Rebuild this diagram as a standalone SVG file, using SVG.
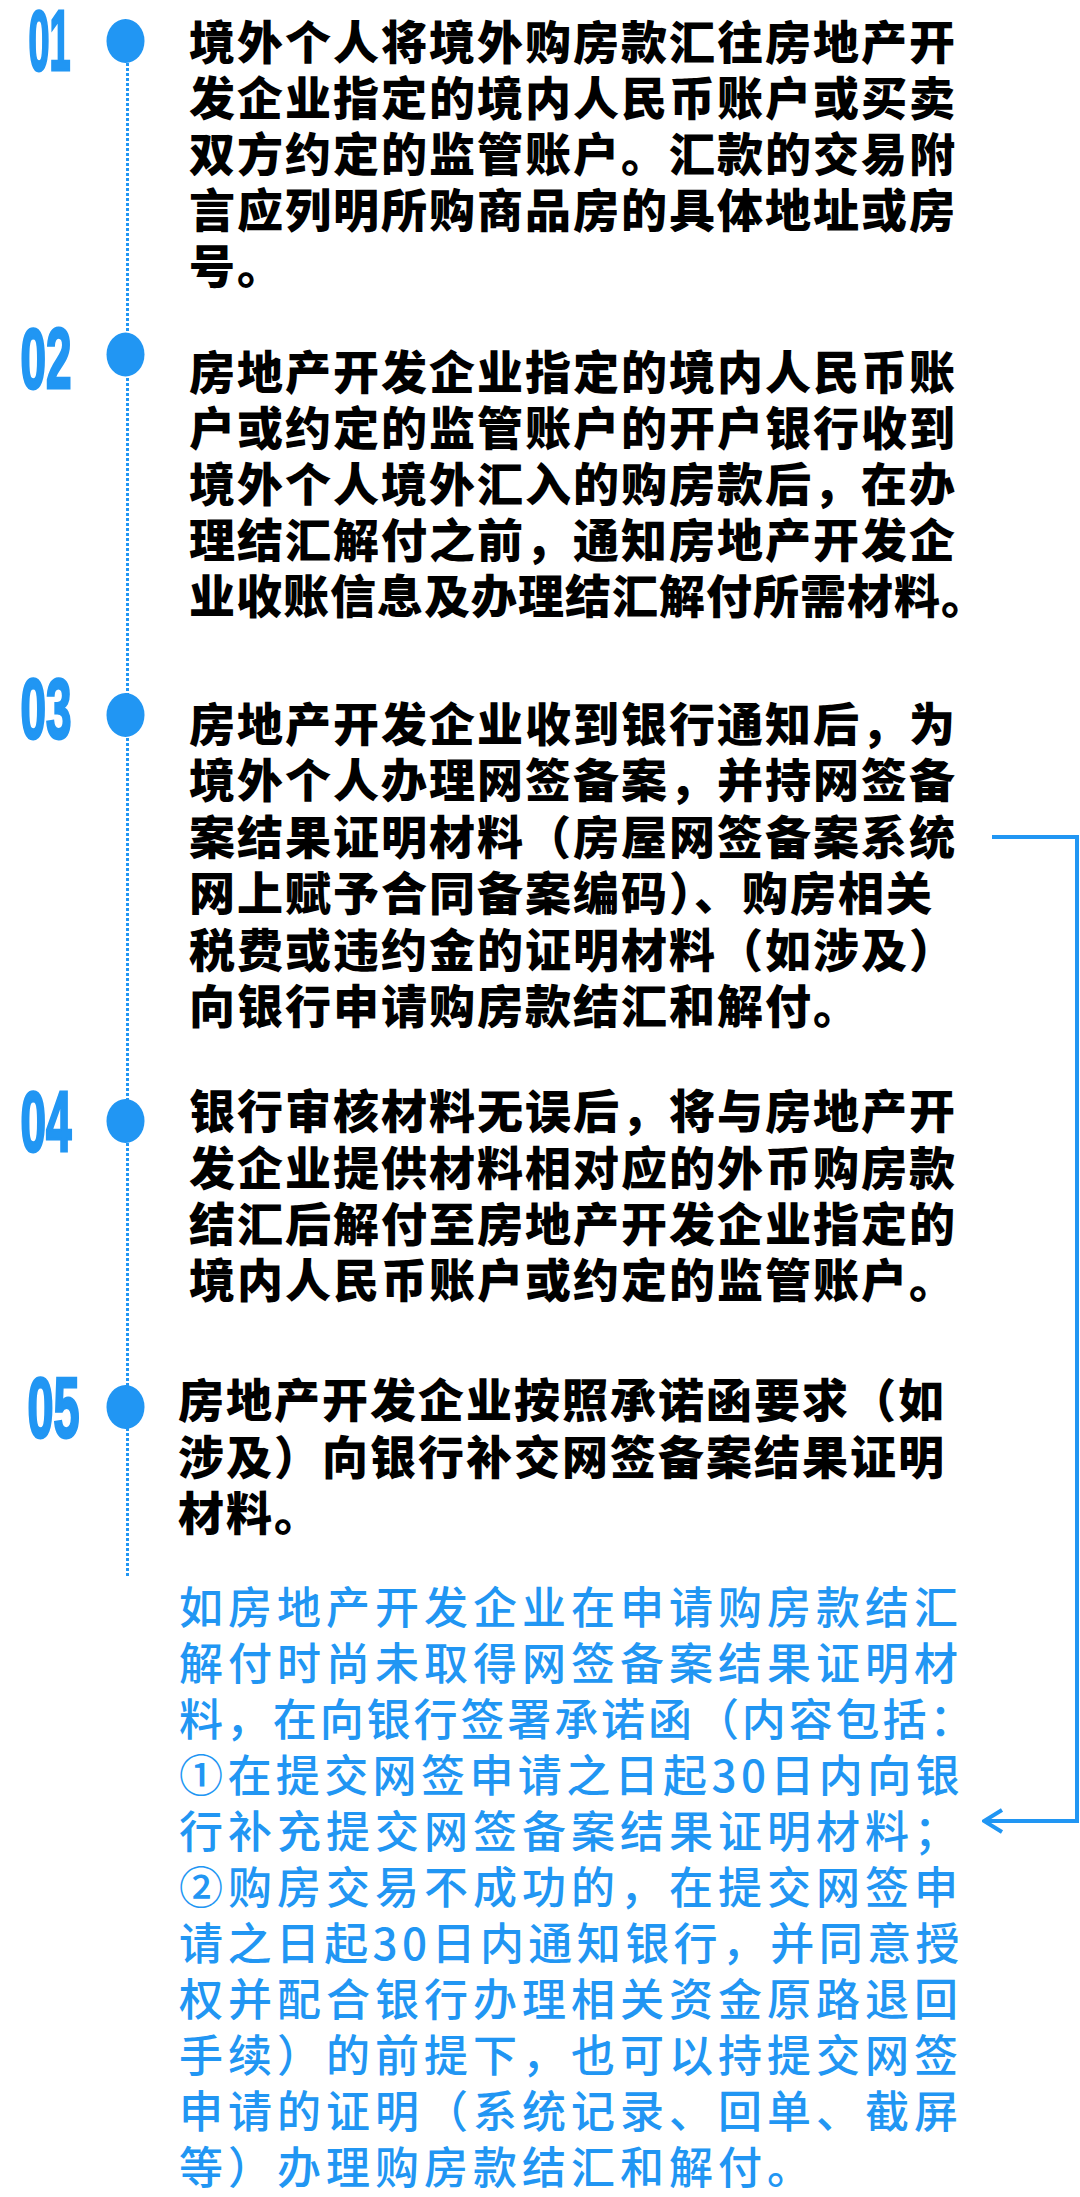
<svg xmlns="http://www.w3.org/2000/svg" width="1080" height="2197" viewBox="0 0 1080 2197">
<style>
.num{font-family:"Liberation Sans",Arial,sans-serif;font-weight:bold;font-size:86px;fill:#2196F3;stroke:#2196F3;stroke-width:3px}
.dot{fill:#2196F3}
.body{font-family:"Noto Sans CJK SC","Noto Sans",sans-serif;font-weight:900;font-size:46px;fill:#000;letter-spacing:2px}
.note{font-family:"Noto Sans CJK SC","Noto Sans",sans-serif;font-weight:500;font-size:44px;fill:#2196F3;letter-spacing:5px}
.conn{fill:none;stroke:#2196F3;stroke-width:4px}
.timeline{stroke:#2196F3;stroke-width:3px;stroke-dasharray:3 2}
</style>
<defs>
<marker id="chev" markerUnits="userSpaceOnUse" viewBox="0 0 22 26" refX="20" refY="13" markerWidth="22" markerHeight="26" orient="auto">
<path d="M2,2 L20,13 L2,24" fill="none" stroke="#2196F3" stroke-width="4"/>
</marker>
</defs>
<rect width="1080" height="2197" fill="#fff"/>

<g id="connectors">
<line class="timeline" x1="127.5" y1="63" x2="127.5" y2="1577"/>
<path class="conn" d="M992,837 H1077 V1821 H984" marker-end="url(#chev)"/>
</g>

<g id="step01">
<text class="num" x="28.5" y="70" textLength="42" lengthAdjust="spacingAndGlyphs">01</text>
<ellipse class="dot" cx="125.5" cy="41" rx="19" ry="22"/>
<text class="body" x="189"><tspan x="189" y="59">境外个人将境外购房款汇往房地产开</tspan><tspan x="189" y="115">发企业指定的境内人民币账户或买卖</tspan><tspan x="189" y="171">双方约定的监管账户。汇款的交易附</tspan><tspan x="189" y="227">言应列明所购商品房的具体地址或房</tspan><tspan x="189" y="283">号。</tspan></text>
</g>

<g id="step02">
<text class="num" x="20.5" y="387.5" textLength="51" lengthAdjust="spacingAndGlyphs">02</text>
<ellipse class="dot" cx="125.5" cy="354.5" rx="19" ry="22"/>
<text class="body"><tspan x="189" y="389">房地产开发企业指定的境内人民币账</tspan><tspan x="189" y="445">户或约定的监管账户的开户银行收到</tspan><tspan x="189" y="501">境外个人境外汇入的购房款后，在办</tspan><tspan x="189" y="557">理结汇解付之前，通知房地产开发企</tspan><tspan x="189" y="613" style="letter-spacing:1px">业收账信息及办理结汇解付所需材料。</tspan></text>
</g>

<g id="step03">
<text class="num" x="20.5" y="737.5" textLength="51" lengthAdjust="spacingAndGlyphs">03</text>
<ellipse class="dot" cx="125.5" cy="715" rx="19" ry="22"/>
<text class="body"><tspan x="189" y="741">房地产开发企业收到银行通知后，为</tspan><tspan x="189" y="797">境外个人办理网签备案，并持网签备</tspan><tspan x="189" y="854">案结果证明材料（房屋网签备案系统</tspan><tspan x="189" y="910">网上赋予合同备案编码）、购房相关</tspan><tspan x="189" y="967">税费或违约金的证明材料（如涉及）</tspan><tspan x="189" y="1023">向银行申请购房款结汇和解付。</tspan></text>
</g>

<g id="step04">
<text class="num" x="20.5" y="1150.5" textLength="51" lengthAdjust="spacingAndGlyphs">04</text>
<ellipse class="dot" cx="125.5" cy="1121" rx="19" ry="22"/>
<text class="body"><tspan x="189" y="1128">银行审核材料无误后，将与房地产开</tspan><tspan x="189" y="1185">发企业提供材料相对应的外币购房款</tspan><tspan x="189" y="1241">结汇后解付至房地产开发企业指定的</tspan><tspan x="189" y="1297">境内人民币账户或约定的监管账户。</tspan></text>
</g>

<g id="step05">
<text class="num" x="27.5" y="1436.5" textLength="52" lengthAdjust="spacingAndGlyphs">05</text>
<ellipse class="dot" cx="125.5" cy="1407" rx="19" ry="22"/>
<text class="body"><tspan x="178" y="1417">房地产开发企业按照承诺函要求（如</tspan><tspan x="178" y="1474">涉及）向银行补交网签备案结果证明</tspan><tspan x="178" y="1530">材料。</tspan></text>
</g>

<g id="note">
<text class="note"><tspan x="179" y="1624">如房地产开发企业在申请购房款结汇</tspan><tspan x="179" y="1680">解付时尚未取得网签备案结果证明材</tspan><tspan x="179" y="1736" style="letter-spacing:2.9px">料，在向银行签署承诺函（内容包括：</tspan><tspan x="179" y="1792" style="letter-spacing:4.4px">①在提交网签申请之日起30日内向银</tspan><tspan x="179" y="1848">行补充提交网签备案结果证明材料；</tspan><tspan x="179" y="1904">②购房交易不成功的，在提交网签申</tspan><tspan x="179" y="1960" style="letter-spacing:4.4px">请之日起30日内通知银行，并同意授</tspan><tspan x="179" y="2016">权并配合银行办理相关资金原路退回</tspan><tspan x="179" y="2072">手续）的前提下，也可以持提交网签</tspan><tspan x="179" y="2128">申请的证明（系统记录、回单、截屏</tspan><tspan x="179" y="2184">等）办理购房款结汇和解付。</tspan></text>
</g>
</svg>
